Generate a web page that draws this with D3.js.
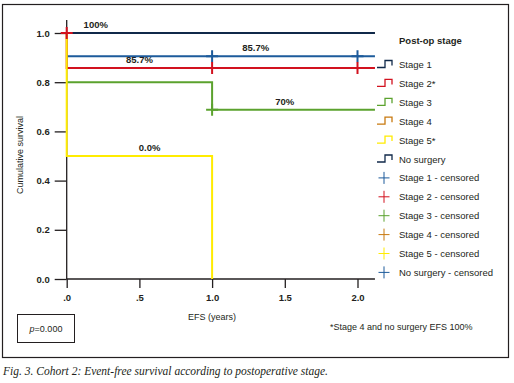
<!DOCTYPE html>
<html>
<head>
<meta charset="utf-8">
<script src="https://cdn.jsdelivr.net/npm/d3@7"></script>
<style>
  body { margin: 0; background: #fff; }
  svg { display: block; }
  text { font-family: "Liberation Sans", Arial, sans-serif; fill: #231f20; }
</style>
</head>
<body>
<svg width="514" height="383"></svg>
<script>
// Survival curves (time in years, cumulative survival)
const stageNames = ["Stage 1", "Stage 2*", "Stage 3", "Stage 4", "Stage 5*", "No surgery"];
const stageColors = ["#1d5b9b", "#d2121f", "#5ba22e", "#c8790f", "#ffec00", "#10294a"];
const legendColors = ["#10294a", "#d2121f", "#5ba22e", "#c8790f", "#ffec00", "#10294a"];
const censorLegendColors = ["#1d5b9b", "#d2121f", "#5ba22e", "#c8790f", "#ffec00", "#1d5b9b"];

// step points per stage: [time, survival]
const stage1Steps = [[0, 0.905], [2.12, 0.905]];
const stage2Steps = [[0, 1.0], [0, 0.858], [2.12, 0.858]];
const stage3Steps = [[0, 0.8], [1.0, 0.8], [1.0, 0.688], [2.12, 0.688]];
const stage4Steps = [[0, 1.0], [2.12, 1.0]];
const stage5Steps = [[0, 1.0], [0, 0.5], [1.0, 0.5], [1.0, 0.0]];
const noSurgerySteps = [[0, 1.0], [2.12, 1.0]];

// censored observations: [stage index, time, survival]
const censored = [
  [1, 0, 1.0],
  [0, 1.0, 0.905], [0, 2.0, 0.905],
  [1, 1.0, 0.858], [1, 2.0, 0.858],
  [2, 1.0, 0.688]
];

// curve labels: [text, time, survival]
const curveLabels = [
  ["100%", 0.2, 1.0],
  ["85.7%", 1.3, 0.905],
  ["85.7%", 0.5, 0.858],
  ["70%", 1.5, 0.688],
  ["0.0%", 0.57, 0.5]
];

const xTicks = [0, 0.5, 1.0, 1.5, 2.0];
const xTickLabels = [".0", ".5", "1.0", "1.5", "2.0"];
const yTicks = [0, 0.2, 0.4, 0.6, 0.8, 1.0];

const svg = d3.select("svg");

// outer frame
svg.append("rect")
  .attr("x", 2.5).attr("y", 4.5)
  .attr("width", 506).attr("height", 353)
  .attr("fill", "none").attr("stroke", "#231f20").attr("stroke-width", 1.2);

const xScale = d3.scaleLinear().domain([0, 2.0]).range([66.7, 357.5]);
const yScale = d3.scaleLinear().domain([0, 1.0]).range([279, 33]);

// axes
const yAxis = d3.axisLeft(yScale).tickValues(yTicks).tickFormat(d3.format(".1f"))
  .tickSize(12).tickPadding(5);
const yg = svg.append("g").attr("transform", `translate(${xScale(0)},0)`).call(yAxis);
yg.select(".domain").attr("d", `M0,20V${yScale(0)}`);

const xAxis = d3.axisBottom(xScale).tickValues(xTicks).tickFormat((d, i) => xTickLabels[i])
  .tickSize(9).tickPadding(6);
const xg = svg.append("g").attr("transform", `translate(0,${yScale(0)})`).call(xAxis);
xg.select(".domain").attr("d", `M${xScale(0)},0H${xScale(2.12)}`);

svg.selectAll(".tick text")
  .style("font-size", "9.5px").style("font-weight", "bold").attr("fill", "#231f20");
svg.selectAll(".domain, .tick line").attr("stroke", "#231f20").attr("stroke-width", 1.3);

// axis titles
svg.append("text")
  .attr("transform", `translate(23,155) rotate(-90)`)
  .attr("text-anchor", "middle")
  .style("font-size", "9px")
  .text("Cumulative survival");

svg.append("text")
  .attr("x", xScale(1.0)).attr("y", 320)
  .attr("text-anchor", "middle")
  .style("font-size", "9px")
  .text("EFS (years)");

// curves
const stepLine = d3.line().x(d => xScale(d[0])).y(d => yScale(d[1]));
const allSteps = [stage1Steps, stage2Steps, stage3Steps, stage4Steps, stage5Steps, noSurgerySteps];
const drawOrder = [3, 5, 0, 1, 2, 4];
drawOrder.forEach(i => {
  svg.append("path")
    .attr("d", stepLine(allSteps[i]))
    .attr("fill", "none")
    .attr("stroke", stageColors[i])
    .attr("stroke-width", 2);
});

// censor marks
censored.forEach(([s, t, v]) => {
  const cx = xScale(t), cy = yScale(v);
  svg.append("path")
    .attr("d", `M${cx - 6},${cy}H${cx + 6}M${cx},${cy - 6}V${cy + 6}`)
    .attr("stroke", stageColors[s])
    .attr("stroke-width", 2);
});

// curve labels
svg.selectAll(".curve-label")
  .data(curveLabels)
  .join("text")
  .attr("class", "curve-label")
  .attr("x", d => xScale(d[1]))
  .attr("y", d => yScale(d[2]) - 5)
  .attr("text-anchor", "middle")
  .style("font-size", "9.5px")
  .style("font-weight", "bold")
  .text(d => d[0]);

// legend
const legendX = 377;
svg.append("text")
  .attr("x", 399).attr("y", 44)
  .style("font-size", "9.5px").style("font-weight", "bold")
  .text("Post-op stage");

const rowY = i => 64.5 + i * 18.9;
stageNames.forEach((name, i) => {
  const cy = rowY(i);
  svg.append("path")
    .attr("d", `M${legendX},${cy + 3}H${legendX + 8}V${cy - 4}H${legendX + 15}V${cy + 1}`)
    .attr("fill", "none")
    .attr("stroke", legendColors[i])
    .attr("stroke-width", 1.3);
  svg.append("text")
    .attr("x", 399).attr("y", cy + 3.5)
    .style("font-size", "9.5px")
    .text(name);
});

const censorNames = ["Stage 1", "Stage 2", "Stage 3", "Stage 4", "Stage 5", "No surgery"];
censorNames.forEach((name, i) => {
  const cy = rowY(i + 6);
  const cx = 384;
  svg.append("path")
    .attr("d", `M${cx - 5.5},${cy}H${cx + 5.5}M${cx},${cy - 6}V${cy + 6}`)
    .attr("stroke", censorLegendColors[i])
    .attr("stroke-width", 1);
  svg.append("text")
    .attr("x", 399).attr("y", cy + 3.5)
    .style("font-size", "9.5px")
    .text(name + " - censored");
});

// p-value box
svg.append("rect")
  .attr("x", 17.5).attr("y", 314.5).attr("width", 57).attr("height", 28)
  .attr("fill", "none").attr("stroke", "#231f20").attr("stroke-width", 1);
const pText = svg.append("text")
  .attr("x", 46).attr("y", 331.5)
  .attr("text-anchor", "middle")
  .style("font-size", "9px");
pText.append("tspan").style("font-style", "italic").text("p");
pText.append("tspan").text("=0.000");

// footnote
svg.append("text")
  .attr("x", 330).attr("y", 330)
  .style("font-size", "9px")
  .text("*Stage 4 and no surgery EFS 100%");

// caption
svg.append("text")
  .attr("x", 3).attr("y", 375)
  .style("font-family", "'Liberation Serif', 'Times New Roman', serif")
  .style("font-style", "italic")
  .style("font-size", "11.5px")
  .text("Fig. 3. Cohort 2: Event-free survival according to postoperative stage.");
</script>
</body>
</html>
